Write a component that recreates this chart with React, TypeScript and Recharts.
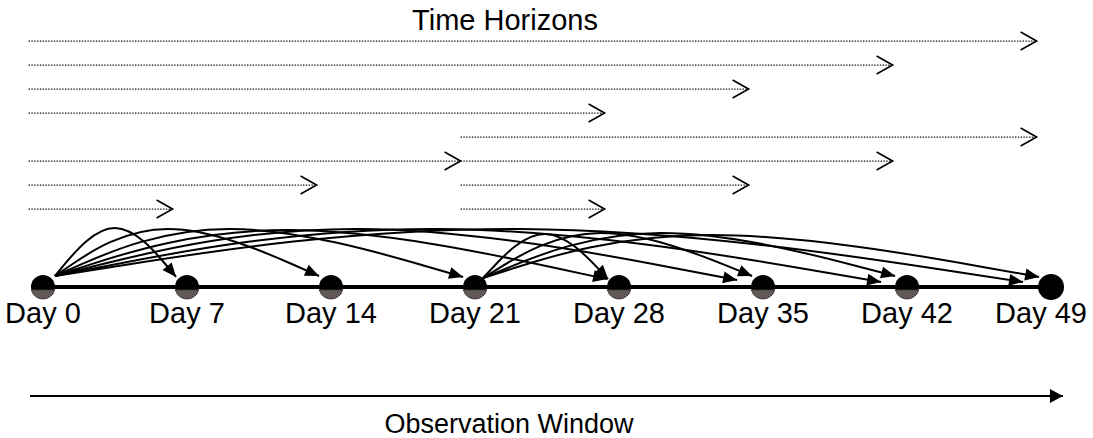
import { ComposedChart, Line, Scatter, XAxis, YAxis } from 'recharts'

// observation days on the main axis
const days = [0, 7, 14, 21, 28, 35, 42, 49]

// dotted "time horizon" arrows, row 1 = lowest
const horizonFrom = [0, 0, 0, 0, 21, 0, 21, 0, 21, 0, 21]
const horizonTo = [49, 42, 35, 28, 49, 21, 42, 14, 35, 7, 28]
const horizonRow = [8, 7, 6, 5, 4, 3, 3, 2, 2, 1, 1]

// curved arrows: origin day, target day, where the arrow tip lands, and the top of the arc (levels)
const arcFrom = [0, 0, 0, 0, 0, 0, 0, 21, 21, 21, 21]
const arcTo = [7, 14, 21, 28, 35, 42, 49, 28, 35, 42, 49]
const arcEndDay = [6.47, 13.42, 20.42, 27.42, 33.74, 40.74, 47.64, 27.47, 34.47, 41.42, 48.42]
const arcEndY = [0.42, 0.46, 0.42, 0.33, 0.29, 0.21, 0.21, 0.33, 0.46, 0.46, 0.42]
const arcPeakDay = [3.5, 6.08, 9.09, 12.01, 15.41, 19.3, 23.19, 24.4, 27.08, 29.99, 32.42]
const arcPeakY = [2.46, 2.42, 2.42, 2.375, 2.42, 2.42, 2.42, 2.21, 2.25, 2.25, 2.17]
const arcStart: Record<number, [number, number]> = { 0: [0.58, 0.46], 21: [21.39, 0.375] }

// observation window arrow
const obsFrom = -0.63
const obsTo = 49.58
const obsLevel = -4.54

const ROW_BASE = 2.25
const H_SHIFT = 0.7
const X_DOMAIN: [number, number] = [-2.09, 51.04]
const FONT = '"Liberation Sans", Arial, sans-serif'

const horizons = horizonFrom.map((from, i) => [
  { x: from, y: ROW_BASE + horizonRow[i] },
  { x: horizonTo[i], y: ROW_BASE + horizonRow[i] },
])

// 3-point basis curve: control point chosen so the curve passes through the read peak
const arcs = arcFrom.map((from, i) => {
  const [sx, sy] = arcStart[from]
  const ex = arcEndDay[i]
  const ey = arcEndY[i]
  const cx = (6 * arcPeakDay[i] - sx - ex) / 4
  const cy = (6 * arcPeakY[i] - sy - ey) / 4
  return [
    { x: sx, y: sy },
    { x: cx, y: cy },
    { x: ex, y: ey },
  ]
})

const dayPoints = days.map((d) => ({ x: d, y: 0, label: `Day ${d}` }))

const DayDot = (props: any) => {
  const { cx, cy, payload } = props
  const r = 12
  const last = payload.x === days[days.length - 1]
  const h = 3
  const w = Math.sqrt(r * r - h * h)
  return (
    <g>
      <circle cx={cx} cy={cy} r={last ? 13 : r} fill="#000" />
      {!last && (
        <path
          d={`M${cx - w},${cy + h} A${r},${r} 0 0 0 ${cx + w},${cy + h} Z`}
          fill="#625858"
          stroke="#4a4242"
          strokeWidth={0.8}
        />
      )}
      <text
        x={last ? cx - 10 : cx}
        y={cy + 36}
        textAnchor="middle"
        fontFamily={FONT}
        fontSize={29}
        fill="#000"
      >
        {payload.label}
      </text>
    </g>
  )
}

export default function App() {
  return (
    <div style={{ position: 'absolute', left: 0, top: 0, width: 1093, height: 438, background: '#fff' }}>
      <svg width={0} height={0} style={{ position: 'absolute' }}>
        <defs>
          <marker id="chev" markerUnits="userSpaceOnUse" markerWidth={20} markerHeight={22} refX={17} refY={9} orient="auto" overflow="visible">
            <path d="M1,0 L17,9 L1,18" fill="none" stroke="#000" strokeWidth={1.6} />
          </marker>
          <marker id="tri" markerUnits="userSpaceOnUse" markerWidth={16} markerHeight={14} refX={14} refY={6} orient="auto" overflow="visible">
            <path d="M0,0 L14,6 L0,12 Z" fill="#000" />
          </marker>
          <marker id="obs" markerUnits="userSpaceOnUse" markerWidth={16} markerHeight={16} refX={13} refY={7} orient="auto" overflow="visible">
            <path d="M0,0 L13,7 L0,14 Z" fill="#000" />
          </marker>
        </defs>
      </svg>
      <ComposedChart width={1093} height={438} margin={{ top: 0, right: 0, bottom: 0, left: 0 }}>
        <XAxis xAxisId="main" type="number" dataKey="x" domain={X_DOMAIN} hide allowDataOverflow />
        <XAxis
          xAxisId="h"
          type="number"
          dataKey="x"
          domain={[X_DOMAIN[0] + H_SHIFT, X_DOMAIN[1] + H_SHIFT]}
          hide
          allowDataOverflow
        />
        <YAxis type="number" dataKey="y" domain={[-6.29, 11.96]} hide allowDataOverflow />

        {horizons.map((pts, i) => (
          <Line
            key={`h${i}`}
            xAxisId="h"
            data={pts}
            dataKey="y"
            stroke="#111"
            strokeWidth={1.3}
            strokeDasharray="1.4 1.4"
            dot={false}
            activeDot={false}
            markerEnd="url(#chev)"
            isAnimationActive={false}
          />
        ))}

        <Line
          xAxisId="main"
          data={[
            { x: obsFrom, y: obsLevel },
            { x: obsTo, y: obsLevel },
          ]}
          dataKey="y"
          stroke="#000"
          strokeWidth={2}
          dot={false}
          activeDot={false}
          markerEnd="url(#obs)"
          isAnimationActive={false}
        />

        <Line
          xAxisId="main"
          data={[
            { x: days[0], y: 0 },
            { x: days[days.length - 1], y: 0 },
          ]}
          dataKey="y"
          stroke="#000"
          strokeWidth={4}
          dot={false}
          activeDot={false}
          isAnimationActive={false}
        />

        <Scatter xAxisId="main" data={dayPoints} dataKey="y" shape={<DayDot />} isAnimationActive={false} />

        {arcs.map((pts, i) => (
          <Line
            key={`a${i}`}
            xAxisId="main"
            data={pts}
            dataKey="y"
            type="basis"
            stroke="#000"
            strokeWidth={2}
            dot={false}
            activeDot={false}
            markerEnd="url(#tri)"
            isAnimationActive={false}
          />
        ))}
      </ComposedChart>
      <svg width={1093} height={438} style={{ position: 'absolute', left: 0, top: 0, pointerEvents: 'none' }}>
        <text x={505} y={30} textAnchor="middle" fontFamily={FONT} fontSize={29} fill="#000">
          Time Horizons
        </text>
        <text x={509} y={433} textAnchor="middle" fontFamily={FONT} fontSize={27} fill="#000">
          Observation Window
        </text>
      </svg>
    </div>
  )
}
